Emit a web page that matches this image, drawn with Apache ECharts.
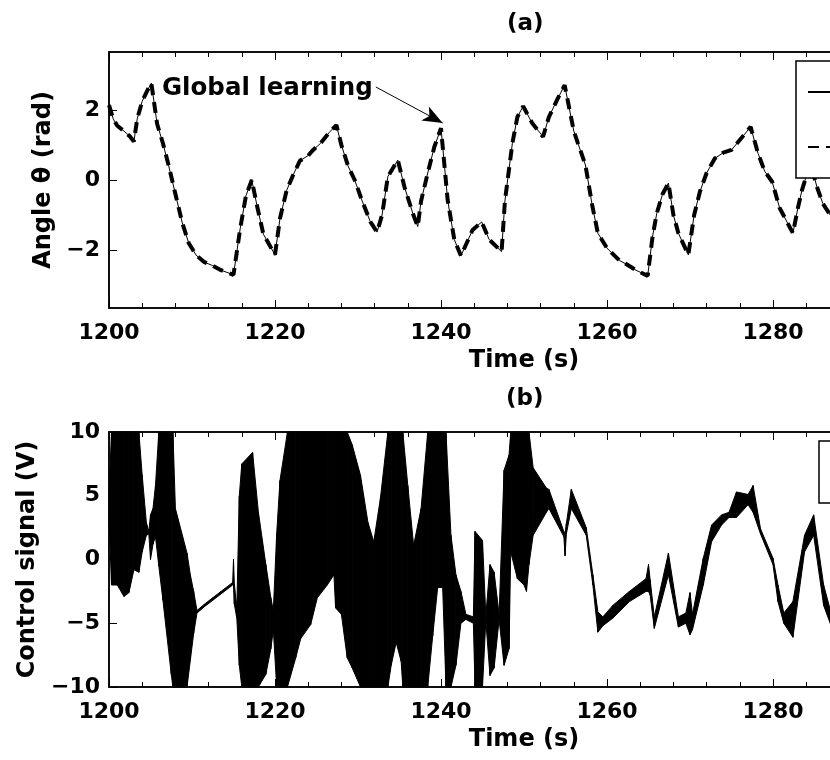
<!DOCTYPE html>
<html>
<head>
<meta charset="utf-8">
<script src="https://cdn.jsdelivr.net/npm/echarts@6/dist/echarts.min.js"></script>
<style>
	html, body { margin: 0; padding: 0; overflow: hidden; background: #fff; }
	#chart { width: 1000px; height: 760px; }
</style>
</head>
<body>
<div id="chart"></div>
<script>
	// (a) angle, time in s
	const timeA = [1200.0, 1200.5, 1201.0, 1201.8, 1202.5, 1203.0, 1203.4, 1204.0, 1204.6, 1205.1,
		1205.8, 1206.5, 1207.2, 1208.0, 1208.8, 1209.6, 1210.5, 1211.5, 1212.5, 1213.5,
		1215.0, 1215.8, 1216.5, 1217.2, 1217.8, 1218.6, 1220.0, 1220.6, 1221.4, 1222.2,
		1223.0, 1224.0, 1224.6, 1225.5, 1226.5, 1227.4, 1228.0, 1228.8, 1229.6, 1230.5,
		1231.5, 1232.3, 1232.9, 1233.6, 1234.8, 1235.6, 1236.6, 1237.2, 1237.6, 1238.4,
		1239.2, 1240.0, 1240.8, 1241.6, 1242.4, 1243.8, 1244.9, 1245.8, 1247.3, 1247.7,
		1248.6, 1249.2, 1249.9, 1251.0, 1252.3, 1253.0, 1254.0, 1254.9, 1256.0, 1256.5,
		1257.4, 1258.2, 1258.9, 1260.0, 1260.6, 1261.5, 1262.5, 1263.5, 1264.9, 1265.5,
		1266.0, 1266.7, 1267.4, 1268.0, 1268.6, 1269.8, 1270.5, 1271.2, 1272.0, 1273.0,
		1274.0, 1275.0, 1276.2, 1277.3, 1278.2, 1279.0, 1279.9, 1280.8, 1282.4, 1283.0,
		1283.5, 1284.5, 1285.3, 1286.0, 1286.9, 1288.0];
	const theta = [2.14, 1.75, 1.55, 1.40, 1.25, 1.10, 1.75, 2.25, 2.55, 2.77,
		1.60, 1.05, 0.40, -0.40, -1.20, -1.80, -2.15, -2.35, -2.45, -2.58,
		-2.71, -1.40, -0.45, 0.00, -0.70, -1.55, -2.14, -1.10, -0.30, 0.15,
		0.55, 0.70, 0.86, 1.05, 1.35, 1.57, 1.00, 0.40, 0.00, -0.60,
		-1.20, -1.49, -1.00, 0.10, 0.57, -0.20, -0.95, -1.33, -0.60, 0.20,
		0.95, 1.48, -0.57, -1.70, -2.17, -1.43, -1.20, -1.70, -2.05, -0.60,
		1.05, 1.80, 2.11, 1.62, 1.24, 1.80, 2.30, 2.71, 1.40, 1.05,
		0.43, -0.70, -1.52, -1.95, -2.09, -2.30, -2.43, -2.58, -2.74, -1.60,
		-0.95, -0.40, -0.09, -1.00, -1.52, -2.14, -1.00, -0.33, 0.20, 0.62,
		0.78, 0.86, 1.20, 1.52, 0.76, 0.25, -0.05, -0.80, -1.52, -0.80,
		-0.28, 0.48, -0.20, -0.67, -1.00, -1.30];

	// (b) control signal envelope (upper / lower of the fast oscillation), V
	const timeB = [1200.0, 1200.3, 1201.0, 1201.8, 1202.4, 1203.0, 1203.6, 1204.0, 1204.5, 1204.8,
		1205.0, 1205.3, 1205.6, 1206.0, 1206.5, 1207.5, 1207.7, 1208.0, 1209.4, 1209.8,
		1210.2, 1210.6, 1211.5, 1212.5, 1213.5, 1214.9, 1215.0, 1215.1, 1215.4, 1215.7,
		1216.0, 1217.3, 1218.0, 1218.9, 1219.5, 1219.8, 1220.2, 1220.6, 1221.5, 1222.5,
		1223.1, 1224.3, 1225.1, 1226.3, 1227.1, 1227.3, 1228.0, 1228.7, 1229.3, 1230.3,
		1231.2, 1231.9, 1232.7, 1233.6, 1234.0, 1234.6, 1235.2, 1235.4, 1236.0, 1236.7,
		1237.6, 1238.4, 1239.0, 1239.6, 1240.2, 1240.6, 1241.2, 1241.8, 1242.4, 1243.0,
		1243.9, 1244.1, 1245.0, 1245.4, 1245.9, 1246.4, 1247.0, 1247.6, 1248.2, 1248.4,
		1249.2, 1250.0, 1250.3, 1250.6, 1251.1, 1252.7, 1253.0, 1254.8, 1254.95, 1255.1,
		1255.7, 1257.5, 1258.3, 1258.9, 1259.5, 1260.7, 1262.7, 1264.7, 1265.0, 1265.2,
		1265.7, 1267.4, 1268.6, 1269.5, 1270.0, 1270.3, 1271.6, 1272.6, 1273.8, 1274.7,
		1275.6, 1277.0, 1277.6, 1278.5, 1280.0, 1280.6, 1281.3, 1282.4, 1283.8, 1284.9,
		1286.1, 1287.0, 1288.0];
	const uUpper = [5.0, 10, 10, 10, 10, 10, 10, 6.6, 2.9, 2.2,
		3.5, 4.0, 5.8, 10, 10, 10, 10, 4.0, 0.5, -1.2,
		-2.5, -4.0, -3.5, -3.0, -2.5, -1.8, 0.0, -1.9, -3.8, 5.0,
		7.5, 8.4, 3.7, -0.4, -3.0, -4.0, 2.0, 6.2, 10, 10,
		10, 10, 10, 10, 10, 10, 10, 10, 9.0, 6.6,
		2.9, 1.4, 4.8, 10, 10, 10, 10, 10, 5.8, 1.1,
		4.0, 10, 10, 10, 10, 10, 1.9, -1.2, -2.5, -4.3,
		-4.5, 2.2, 1.5, -4.4, -0.4, -1.0, -4.3, 7.0, 8.2, 10,
		10, 10, 10, 10, 7.2, 5.6, 5.5, 2.2, 2.0, 2.8,
		5.5, 2.5, -1.2, -4.1, -4.5, -3.6, -2.5, -1.5, -0.4, -1.6,
		-4.5, 0.5, -4.5, -4.2, -2.6, -4.3, 0.1, 2.7, 3.5, 3.7,
		5.3, 5.1, 5.8, 2.4, 0.1, -2.0, -4.2, -3.3, 1.9, 3.5,
		-2.0, -4.2, -4.5];
	const uLower = [3.5, -2.0, -2.0, -2.9, -2.6, -0.8, -1.0, 0.6, 1.9, 2.0,
		0.0, 1.2, 1.8, -0.5, -3.2, -9.0, -10, -10, -10, -7.9,
		-5.8, -4.2, -3.7, -3.2, -2.7, -2.0, -2.0, -3.5, -4.6, -8.3,
		-10, -10, -10, -9.0, -7.0, -5.5, -10, -10, -10, -7.7,
		-6.2, -5.1, -3.0, -2.0, -1.2, -3.8, -4.3, -7.7, -8.5, -10,
		-10, -10, -10, -10, -8.3, -6.5, -8.0, -10, -10, -10,
		-10, -10, -6.0, -2.2, -2.2, -10, -10, -8.3, -5.0, -4.7,
		-5.0, -10, -10, -4.8, -9.1, -8.5, -4.7, -8.3, -7.0, 0.6,
		-1.5, -2.0, -2.5, -0.4, 1.9, 3.7, 4.0, 1.8, 0.3, 2.0,
		4.0, 1.9, -2.0, -5.7, -5.2, -4.6, -3.3, -2.5, -2.5, -2.8,
		-5.4, -1.2, -5.3, -5.0, -5.9, -5.5, -2.0, 1.4, 2.7, 3.3,
		3.3, 4.3, 3.7, 2.0, -0.4, -3.3, -5.0, -6.1, 0.6, 1.9,
		-3.6, -5.2, -5.5];

	const FONT = 'DejaVu Sans';
	const minus = (v) => String(v).replace('-', '\u2212');

	// one quad per step of the envelope
	const bandRows = [];
	for (let i = 0; i < timeB.length - 1; i++) {
		bandRows.push([timeB[i], uUpper[i], uLower[i], timeB[i + 1], uUpper[i + 1], uLower[i + 1]]);
	}

	const xAxisFor = (gridIndex, position) => ({
		type: 'value',
		gridIndex: gridIndex,
		position: position,
		min: 1200,
		max: 1300,
		interval: 20,
		axisLine: { show: true, onZero: false, lineStyle: { color: '#000', width: 1.5 } },
		axisTick: { show: true, inside: true, length: 8, lineStyle: { color: '#000', width: 1 } },
		minorTick: { show: true, splitNumber: 5, length: 5, lineStyle: { color: '#000', width: 1 } },
		splitLine: { show: false },
		axisLabel: {
			show: position === 'bottom',
			formatter: (v) => String(v),
			color: '#000', fontFamily: FONT, fontWeight: 'bold', fontSize: 22, margin: 14
		},
		name: position === 'bottom' ? 'Time (s)' : '',
		nameLocation: 'middle',
		nameGap: 41,
		nameTextStyle: { color: '#000', fontFamily: FONT, fontWeight: 'bold', fontSize: 24 }
	});

	const chart = echarts.init(document.getElementById('chart'), null, { renderer: 'canvas' });

	const option = {
		animation: false,
		backgroundColor: '#fff',
		textStyle: { fontFamily: FONT },
		grid: [
			{ left: 109, top: 52, width: 830, height: 256, show: true, borderColor: '#000', borderWidth: 1.5, backgroundColor: '#fff' },
			{ left: 109, top: 432, width: 830, height: 255, show: true, borderColor: '#000', borderWidth: 1.5, backgroundColor: '#fff' }
		],
		xAxis: [
			xAxisFor(0, 'bottom'),
			xAxisFor(0, 'top'),
			xAxisFor(1, 'bottom'),
			xAxisFor(1, 'top')
		],
		yAxis: [{
				type: 'value',
				gridIndex: 0,
				min: -3.66,
				max: 3.66,
				axisLine: { show: true, onZero: false, lineStyle: { color: '#000', width: 1.5 } },
				axisTick: { show: true, inside: true, length: 8, customValues: [-2, 0, 2], lineStyle: { color: '#000' } },
				axisLabel: {
					customValues: [-2, 0, 2], formatter: minus,
					color: '#000', fontFamily: FONT, fontWeight: 'bold', fontSize: 22, margin: 9
				},
				splitLine: { show: false },
				name: 'Angle \u03b8 (rad)',
				nameLocation: 'middle',
				nameGap: 49,
				nameTextStyle: { color: '#000', fontFamily: FONT, fontWeight: 'bold', fontSize: 24 }
			},
			{
				type: 'value',
				gridIndex: 1,
				min: -10,
				max: 10,
				interval: 5,
				axisLine: { show: true, onZero: false, lineStyle: { color: '#000', width: 1.5 } },
				axisTick: { show: true, inside: true, length: 8, lineStyle: { color: '#000' } },
				axisLabel: {
					formatter: minus,
					color: '#000', fontFamily: FONT, fontWeight: 'bold', fontSize: 22, margin: 9
				},
				splitLine: { show: false },
				name: 'Control signal (V)',
				nameLocation: 'middle',
				nameGap: 64,
				nameTextStyle: { color: '#000', fontFamily: FONT, fontWeight: 'bold', fontSize: 24 }
			}
		],
		legend: [{
				left: 796,
				top: 61,
				orient: 'vertical',
				data: ['Reference', 'Output'],
				padding: [21, 10, 21, 11],
				itemWidth: 60,
				itemHeight: 14,
				itemGap: 35,
				borderColor: '#000',
				borderWidth: 1.5,
				borderRadius: 0,
				backgroundColor: '#fff',
				textStyle: { color: '#000', fontFamily: FONT, fontWeight: 'bold', fontSize: 20 }
			},
			{
				left: 819,
				top: 441,
				orient: 'vertical',
				data: ['Control'],
				padding: [21, 10, 21, 11],
				itemWidth: 60,
				itemHeight: 14,
				borderColor: '#000',
				borderWidth: 1.5,
				borderRadius: 0,
				backgroundColor: '#fff',
				textStyle: { color: '#000', fontFamily: FONT, fontWeight: 'bold', fontSize: 20 }
			}
		],
		graphic: [{
				type: 'text', left: 507, top: 13,
				style: { text: '(a)', fill: '#000', font: 'bold 23px "DejaVu Sans"' }
			},
			{
				type: 'text', left: 506, top: 388,
				style: { text: '(b)', fill: '#000', font: 'bold 23px "DejaVu Sans"' }
			},
			{
				type: 'text', left: 162, top: 76,
				style: { text: 'Global learning', fill: '#000', font: 'bold 24.5px "DejaVu Sans"' },
				z: 10
			}
		],
		series: [{
				name: 'Reference',
				type: 'line',
				xAxisIndex: 0,
				yAxisIndex: 0,
				data: timeA.map((t, i) => [t, theta[i]]),
				symbol: 'none',
				lineStyle: { color: '#000', width: 1 },
				itemStyle: { color: '#000' },
				z: 3
			},
			{
				name: 'Output',
				type: 'line',
				xAxisIndex: 0,
				yAxisIndex: 0,
				data: timeA.map((t, i) => [t, theta[i]]),
				symbol: 'none',
				lineStyle: { color: '#000', width: 4, type: [11, 7] },
				itemStyle: { color: '#000' },
				z: 2,
				markLine: {
					silent: true,
					symbol: ['none', 'arrow'],
					symbolSize: [12, 20],
					label: { show: false },
					lineStyle: { color: '#000', width: 1, type: 'solid' },
					data: [
						[{ coord: [1232.15, 2.66] }, { coord: [1240.2, 1.63] }]
					]
				}
			},
			{
				name: 'Control',
				type: 'custom',
				xAxisIndex: 2,
				yAxisIndex: 1,
				data: bandRows,
				encode: { x: [0, 3], y: [1, 2, 4, 5] },
				itemStyle: { color: '#000' },
				renderItem: function(params, api) {
					const p0 = api.coord([api.value(0), api.value(1)]);
					const p1 = api.coord([api.value(3), api.value(4)]);
					const p2 = api.coord([api.value(3), api.value(5)]);
					const p3 = api.coord([api.value(0), api.value(2)]);
					return {
						type: 'polygon',
						shape: { points: [p0, p1, p2, p3] },
						style: { fill: '#000', stroke: '#000', lineWidth: 1 }
					};
				}
			}
		]
	};

	chart.setOption(option);
</script>
</body>
</html>
